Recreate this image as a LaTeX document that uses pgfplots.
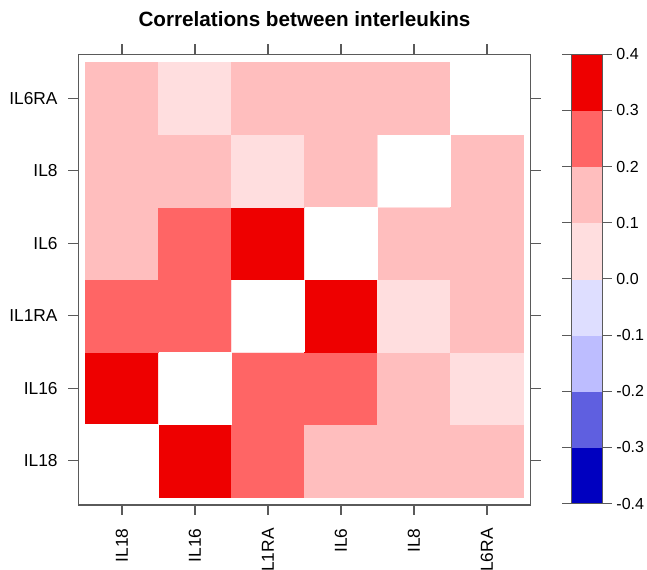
\documentclass[border=0pt]{standalone}
\usepackage{pgfplots}
\pgfplotsset{compat=1.18}
\usepackage{fontspec}
\setmainfont{Liberation Sans}
\definecolor{c1}{RGB}{0,0,192}
\definecolor{c2}{RGB}{95,95,224}
\definecolor{c3}{RGB}{189,189,255}
\definecolor{c4}{RGB}{222,222,255}
\definecolor{c5}{RGB}{255,222,223}
\definecolor{c6}{RGB}{255,190,190}
\definecolor{c7}{RGB}{255,101,101}
\definecolor{c8}{RGB}{238,0,0}
\definecolor{framegray}{RGB}{90,90,90}
\pgfplotstableread{
x y v
0 0 0
1 0 0.35
2 0 0.25
3 0 0.15
4 0 0.15
5 0 0.15
0 1 0.35
1 1 0
2 1 0.25
3 1 0.25
4 1 0.15
5 1 0.05
0 2 0.25
1 2 0.25
2 2 0
3 2 0.35
4 2 0.05
5 2 0.15
0 3 0.15
1 3 0.25
2 3 0.35
3 3 0
4 3 0.15
5 3 0.15
0 4 0.15
1 4 0.15
2 4 0.05
3 4 0.15
4 4 0
5 4 0.15
0 5 0.15
1 5 0.05
2 5 0.15
3 5 0.15
4 5 0.15
5 5 0
}\corr
\begin{document}
\begin{tikzpicture}
\begin{axis}[
  name=main,
  scale only axis,
  width=339.3pt, height=338pt,
  xmin=-0.599, xmax=5.599, ymin=-0.608, ymax=5.608,
  xtick={0,...,5}, xticklabels={IL18,IL16,IL1RA,IL6,IL8,IL6RA},
  ytick={0,...,5}, yticklabels={IL18,IL16,IL1RA,IL6,IL8,IL6RA},
  tick align=outside, major tick length=7.5pt,
  ticklabel style={font=\fontsize{13}{15}\selectfont, text=black},
  xticklabel style={rotate=90, anchor=east, xshift=-4pt},
  xticklabel shift=2.5pt,
  yticklabel style={xshift=-3pt},
  yticklabel shift=1.5pt,
  axis line style={draw=framegray, line width=0.8pt},
  tick style={draw=framegray, line width=0.8pt},
  title={Correlations between interleukins},
  title style={at={(0.5,1)}, anchor=base, yshift=14.5pt, font=\bfseries\fontsize{15.5}{18}\selectfont},
  colormap access=piecewise constant,
  colormap={rb}{color=(c1) color=(c2) color=(c3) color=(c4) color=(c5) color=(c6) color=(c7) color=(c8)},
  point meta min=-0.4, point meta max=0.4,
  colorbar,
  colorbar style={
    at={(main.north east)}, anchor=north west, xshift=22pt,
    scale only axis, width=23.5pt, height=337pt,
    ytick={-0.4,-0.3,-0.2,-0.1,0,0.1,0.2,0.3,0.4},
    yticklabels={-0.4,-0.3,-0.2,-0.1,0.0,0.1,0.2,0.3,0.4},
    tick align=outside, major tick length=6.75pt,
    yticklabel style={font=\fontsize{12}{14}\selectfont, text=black},
    axis line style={draw=framegray, line width=0.8pt},
    tick style={draw=framegray, line width=0.8pt},
  },
]
\addplot[matrix plot*, mesh/cols=6, point meta=explicit] table[x=x, y=y, meta=v] {\corr};
\addplot[fill=white, draw=white, line width=0.6pt] coordinates {(-0.5,-0.5) (0.5,-0.5) (0.5,0.5) (-0.5,0.5)} -- cycle;
\addplot[fill=white, draw=none] coordinates {(0.5,0.5) (1.5,0.5) (1.5,1.5) (0.5,1.5)} -- cycle;
\addplot[fill=white, draw=none] coordinates {(1.5,1.5) (2.5,1.5) (2.5,2.5) (1.5,2.5)} -- cycle;
\addplot[fill=white, draw=none] coordinates {(2.5,2.5) (3.5,2.5) (3.5,3.5) (2.5,3.5)} -- cycle;
\addplot[fill=white, draw=none] coordinates {(3.5,3.5) (4.5,3.5) (4.5,4.5) (3.5,4.5)} -- cycle;
\addplot[fill=white, draw=white, line width=0.6pt] coordinates {(4.5,4.5) (5.5,4.5) (5.5,5.5) (4.5,5.5)} -- cycle;
\end{axis}
\pgfresetboundingbox
\path[use as bounding box] ([shift={(-58.7pt,-48.75pt)}]main.south west) rectangle ([shift={(87.2pt,40.7pt)}]main.north east);
\end{tikzpicture}
\end{document}
